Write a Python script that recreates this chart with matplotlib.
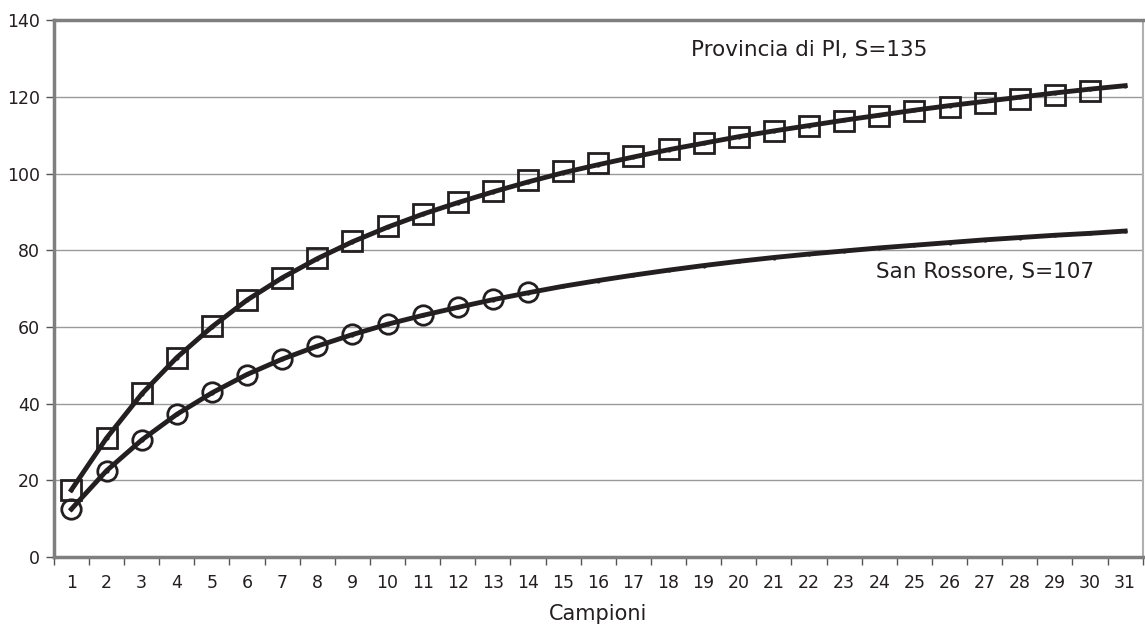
import matplotlib
matplotlib.use("Agg")
import matplotlib.pyplot as plt
from matplotlib.ticker import FixedLocator, NullFormatter

plt.rcParams['font.family'] = ['DejaVu Sans']

# campioni (samples)
campioni = list(range(1, 32))

# Provincia di PI - observed (squares) and fitted curve
pi_obs_x = list(range(1, 31))
pi_obs = [17.5, 31, 42.7, 52, 60.2, 67, 72.7, 78, 82.4, 86.3,
          89.4, 92.5, 95.4, 98.3, 100.6, 102.7, 104.5, 106.4, 107.9, 109.5,
          111, 112.4, 113.7, 115, 116.3, 117.3, 118.4, 119.3, 120.4, 121.5]
pi_fit = [17.5, 31, 42.5, 52, 60, 67, 72.8, 77.8, 82.2, 86,
          89.4, 92.4, 95.2, 97.8, 100.2, 102.3, 104.3, 106.2, 107.9, 109.6,
          111.1, 112.5, 113.9, 115.2, 116.5, 117.7, 118.8, 119.9, 121, 122, 122.9]

# San Rossore - observed (circles) and fitted curve
sr_obs_x = list(range(1, 15))
sr_obs = [12.5, 22.5, 30.5, 37.3, 43, 47.5, 51.6, 55, 58.1, 60.7,
          63, 65.2, 67.3, 69]
sr_fit = [12.5, 22.5, 30.5, 37.2, 42.8, 47.6, 51.6, 55, 58, 60.7,
          63, 65.1, 67.1, 68.9, 70.6, 72.1, 73.5, 74.8, 76, 77.1,
          78.1, 79, 79.8, 80.6, 81.3, 82, 82.7, 83.3, 83.9, 84.4, 85]

fig = plt.figure(figsize=(11.45, 6.28), dpi=100)
ax = fig.add_axes([0.047, 0.113, 0.951, 0.855])

for v in range(20, 140, 20):
    ax.axhline(v, color='#9a9a9a', lw=1, zorder=0)

ax.plot(campioni, pi_fit, color='#231f20', lw=3.5, marker='.', ms=4, zorder=3)
ax.plot(campioni, sr_fit, color='#231f20', lw=3.5, marker='.', ms=4, zorder=3)
ax.plot(pi_obs_x, pi_obs, ls='none', marker='s', ms=15, mfc='none',
        mec='#231f20', mew=2, zorder=4)
ax.plot(sr_obs_x, sr_obs, ls='none', marker='o', ms=14, mfc='none',
        mec='#231f20', mew=2, zorder=4)

ax.text(22.0, 132.2, 'Provincia di PI, S=135', fontsize=15.5,
        color='#231f20', ha='center', va='center')
ax.text(27.0, 74.3, 'San Rossore, S=107', fontsize=15.5,
        color='#231f20', ha='center', va='center')

ax.set_xlim(0.5, 31.5)
ax.set_ylim(0, 140)
ax.set_xticks(campioni)
ax.xaxis.set_minor_locator(FixedLocator([i + 0.5 for i in range(0, 32)]))
ax.xaxis.set_minor_formatter(NullFormatter())
ax.tick_params(axis='x', which='major', length=0, pad=12, labelsize=12.5,
               labelcolor='#231f20')
ax.tick_params(axis='x', which='minor', length=6, width=1, color='#555555')
ax.set_yticks(range(0, 141, 20))
ax.tick_params(axis='y', length=6, width=1, color='#555555', labelsize=12.5,
               labelcolor='#231f20', pad=4)
ax.set_xlabel('Campioni', fontsize=15, color='#231f20', labelpad=9)

for side in ['left', 'bottom', 'top']:
    ax.spines[side].set_color('#7f7f7f')
    ax.spines[side].set_linewidth(2.5)
ax.spines['right'].set_color('#b0b0b0')
ax.spines['right'].set_linewidth(1.5)

fig.savefig('out.png', dpi=100)
